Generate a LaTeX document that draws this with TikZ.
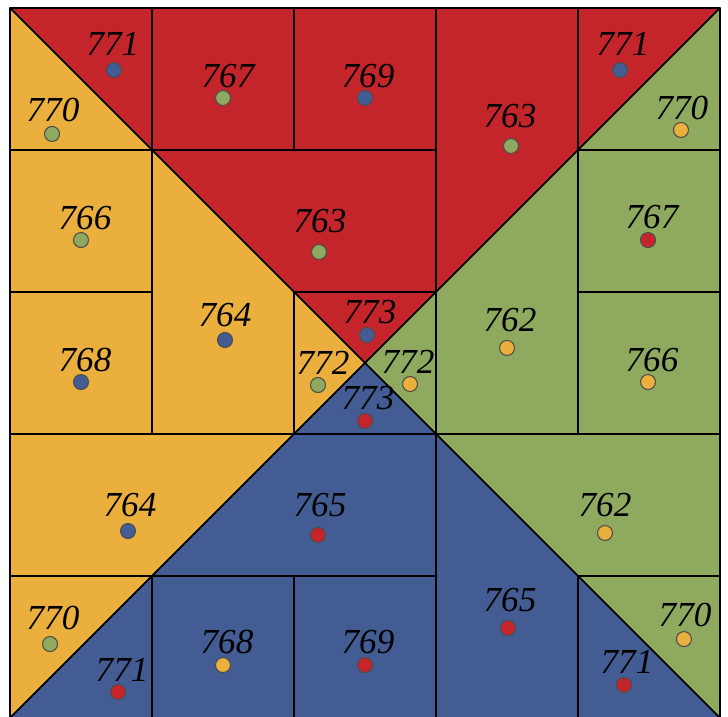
\documentclass[tikz,border=0pt]{standalone}
\usepackage{fontspec}
\setmainfont{Liberation Serif}
\usepackage{tikz}
\usetikzlibrary{positioning}
\definecolor{tRed}{HTML}{C4252A}
\definecolor{tOrange}{HTML}{EBAF3E}
\definecolor{tGreen}{HTML}{8FAA5F}
\definecolor{tBlue}{HTML}{435C93}

\begin{document}
\begin{tikzpicture}[
  x=1.42cm, y=-1.42cm,
  piece/.style={draw=black, line width=0.45pt, line join=round},
  spot/.style ={circle, draw=black!70, line width=0.3pt, inner sep=0pt, minimum size=0.15cm},
  num/.style  ={font=\fontsize{10}{12}\selectfont\itshape, inner sep=0pt},
]
% 5x5 grid, one cell = 1 unit, origin at the top-left corner, y down
\useasboundingbox (-0.0704,-0.0563) rectangle (5.0563,4.9859);

% top quarter
\filldraw[piece, fill=tRed] (0,0) -- (1,0) -- (1,1) -- cycle;
\filldraw[piece, fill=tRed] (1,0) -- (2,0) -- (2,1) -- (1,1) -- cycle;
\filldraw[piece, fill=tRed] (2,0) -- (3,0) -- (3,1) -- (2,1) -- cycle;
\filldraw[piece, fill=tRed] (3,0) -- (4,0) -- (4,1) -- (3,2) -- cycle;
\filldraw[piece, fill=tRed] (4,0) -- (5,0) -- (4,1) -- cycle;
\filldraw[piece, fill=tRed] (1,1) -- (3,1) -- (3,2) -- (2,2) -- cycle;
\filldraw[piece, fill=tRed] (2,2) -- (3,2) -- (2.5,2.5) -- cycle;
% left quarter
\filldraw[piece, fill=tOrange] (0,0) -- (1,1) -- (0,1) -- cycle;
\filldraw[piece, fill=tOrange] (0,1) -- (1,1) -- (1,2) -- (0,2) -- cycle;
\filldraw[piece, fill=tOrange] (0,2) -- (1,2) -- (1,3) -- (0,3) -- cycle;
\filldraw[piece, fill=tOrange] (1,1) -- (2,2) -- (2,3) -- (1,3) -- cycle;
\filldraw[piece, fill=tOrange] (2,2) -- (2.5,2.5) -- (2,3) -- cycle;
\filldraw[piece, fill=tOrange] (0,3) -- (2,3) -- (1,4) -- (0,4) -- cycle;
\filldraw[piece, fill=tOrange] (0,4) -- (1,4) -- (0,5) -- cycle;
% right quarter
\filldraw[piece, fill=tGreen] (5,0) -- (5,1) -- (4,1) -- cycle;
\filldraw[piece, fill=tGreen] (4,1) -- (5,1) -- (5,2) -- (4,2) -- cycle;
\filldraw[piece, fill=tGreen] (4,2) -- (5,2) -- (5,3) -- (4,3) -- cycle;
\filldraw[piece, fill=tGreen] (3,2) -- (4,1) -- (4,3) -- (3,3) -- cycle;
\filldraw[piece, fill=tGreen] (3,2) -- (3,3) -- (2.5,2.5) -- cycle;
\filldraw[piece, fill=tGreen] (3,3) -- (5,3) -- (5,4) -- (4,4) -- cycle;
\filldraw[piece, fill=tGreen] (4,4) -- (5,4) -- (5,5) -- cycle;
% bottom quarter
\filldraw[piece, fill=tBlue] (2,3) -- (3,3) -- (2.5,2.5) -- cycle;
\filldraw[piece, fill=tBlue] (1,4) -- (2,3) -- (3,3) -- (3,4) -- cycle;
\filldraw[piece, fill=tBlue] (3,3) -- (4,4) -- (4,5) -- (3,5) -- cycle;
\filldraw[piece, fill=tBlue] (1,4) -- (2,4) -- (2,5) -- (1,5) -- cycle;
\filldraw[piece, fill=tBlue] (2,4) -- (3,4) -- (3,5) -- (2,5) -- cycle;
\filldraw[piece, fill=tBlue] (0,5) -- (1,4) -- (1,5) -- cycle;
\filldraw[piece, fill=tBlue] (4,4) -- (5,5) -- (4,5) -- cycle;

% numbers and their marks
\foreach \n/\lx/\ly/\dx/\dy/\c [count=\k] in {%
  771/0.725/0.254/0.732/0.437/tBlue,
  770/0.303/0.718/0.296/0.887/tGreen,
  767/1.535/0.479/1.500/0.634/tGreen,
  769/2.521/0.479/2.500/0.634/tBlue,
  763/3.521/0.761/3.528/0.972/tGreen,
  771/4.317/0.254/4.296/0.437/tBlue,
  770/4.732/0.704/4.725/0.859/tOrange,
  766/0.528/1.479/0.500/1.634/tGreen,
  763/2.183/1.500/2.176/1.718/tGreen,
  767/4.521/1.472/4.493/1.634/tRed,
  764/1.514/2.162/1.514/2.338/tBlue,
  773/2.535/2.141/2.514/2.303/tBlue,
  762/3.521/2.197/3.500/2.394/tOrange,
  768/0.528/2.479/0.500/2.634/tBlue,
  772/2.204/2.500/2.169/2.655/tGreen,
  772/2.803/2.493/2.817/2.648/tOrange,
  766/4.521/2.479/4.493/2.634/tOrange,
  773/2.521/2.746/2.500/2.908/tRed,
  764/0.845/3.500/0.831/3.683/tBlue,
  765/2.183/3.500/2.169/3.711/tRed,
  762/4.190/3.500/4.190/3.697/tOrange,
  765/3.521/4.169/3.507/4.366/tRed,
  770/0.303/4.296/0.282/4.479/tGreen,
  771/0.789/4.662/0.761/4.817/tRed,
  768/1.528/4.465/1.500/4.627/tOrange,
  769/2.521/4.465/2.500/4.627/tRed,
  770/4.754/4.275/4.746/4.444/tOrange,
  771/4.345/4.606/4.324/4.768/tRed%
} {
  \node[num] (n\k) at (\lx,\ly) {\n};
  \node[spot, fill=\c] (s\k) at (\dx,\dy) {};
}
\end{tikzpicture}
\end{document}
